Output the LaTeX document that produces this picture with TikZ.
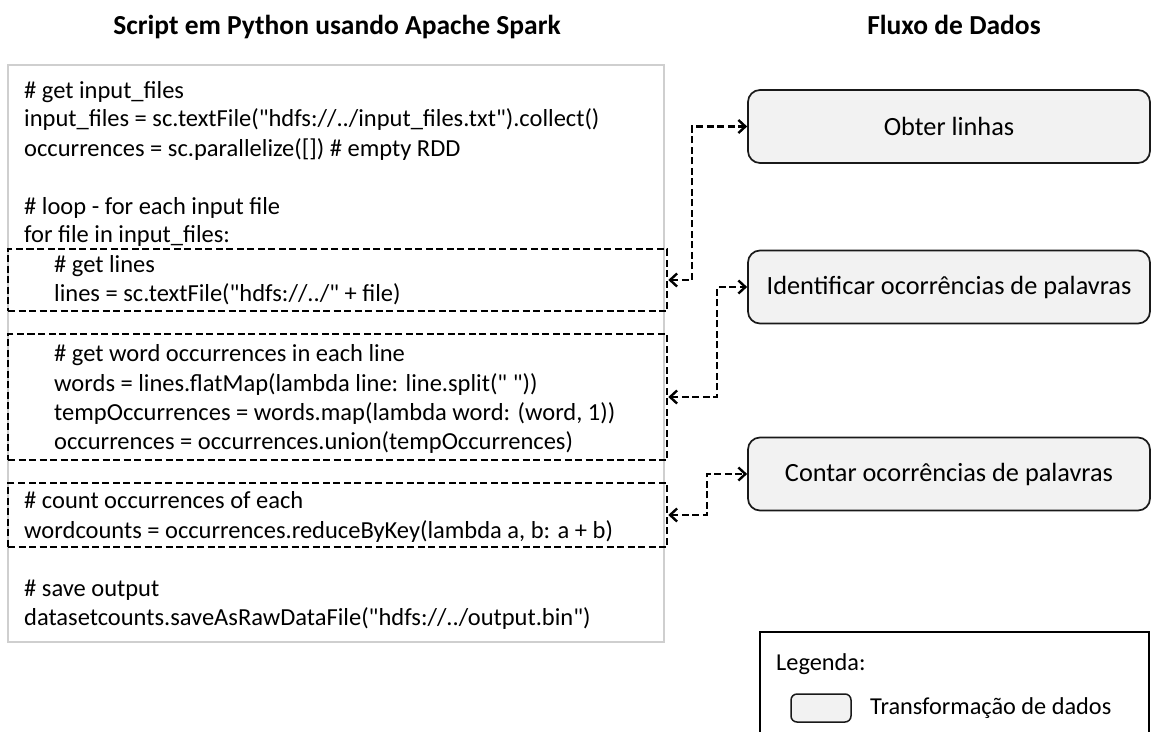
\documentclass[tikz,border=0pt]{standalone}
\usepackage{fontspec}
\setmainfont{Carlito}[Ligatures=TeXOff]
\usetikzlibrary{arrows.meta,calc}
\definecolor{boxfill}{HTML}{F2F2F2}
\definecolor{outergray}{HTML}{CFCFCF}
\tikzset{
  codeline/.style={anchor=base west, inner sep=0pt, font=\fontsize{24.5}{29}\selectfont},
  titletext/.style={anchor=base, inner sep=0pt, font=\fontsize{27.5}{32}\selectfont\bfseries},
  dbox/.style={draw=black, line width=2.6pt, dash pattern=on 7pt off 3.5pt, minimum width=659pt, inner sep=0pt},
  flowbox/.style={draw=black!90, fill=boxfill, line width=1.7pt, rounded corners=12pt, minimum width=402pt, minimum height=73pt, inner sep=0pt, font=\fontsize{26.3}{30}\selectfont},
  conn/.style={line width=2.6pt, dash pattern=on 7pt off 3.5pt, {Straight Barb[length=7pt,width=13pt,line width=2.4pt]}-{Straight Barb[length=7pt,width=13pt,line width=2.4pt]}},
  legtext/.style={anchor=west, inner sep=0pt, font=\fontsize{24.3}{28}\selectfont}
}
\begin{document}
\begin{tikzpicture}[x=1pt,y=-1pt]
\useasboundingbox (0,0) rectangle (1156,731);
% titles
\node[titletext] (t1) at (337,34) {Script em Python usando Apache Spark};
\node[titletext] (t2) at (954,34) {Fluxo de Dados};
% outer code box
\draw[outergray, line width=1.5pt] (8,65) rectangle (664,642);
% dashed boxes
\node[dbox, minimum height=62pt] (db1) at (337.5,280) {};
\node[dbox, minimum height=126pt] (db2) at (337.5,397) {};
\node[dbox, minimum height=64pt] (db3) at (337.5,515) {};
% code lines
\node[codeline] (l1) at (24,98) {\# get input\_files};
\node[codeline] (l2) at (24,126) {input\_files = sc.textFile("hdfs://../input\_files.txt").collect()};
\node[codeline] (l3) at (24,156) {occurrences = sc.parallelize([]) \# empty RDD};
\node[codeline] (l4) at (24,214) {\# loop - for each input file};
\node[codeline] (l5) at (24,242) {for file in input\_files:};
\node[codeline] (l6) at (54,272) {\# get lines};
\node[codeline] (l7) at (54,301) {lines = sc.textFile("hdfs://../" + file)};
\node[codeline] (l8) at (54,361) {\# get word occurrences in each line};
\node[codeline] (l9) at (54,391) {words = lines.flatMap(lambda line: line.split(" "))};
\node[codeline] (l10) at (54,420) {tempOccurrences = words.map(lambda word: (word, 1))};
\node[codeline] (l11) at (54,449) {occurrences = occurrences.union(tempOccurrences)};
\node[codeline] (l12) at (24,508) {\# count occurrences of each};
\node[codeline] (l13) at (24,538) {wordcounts = occurrences.reduceByKey(lambda a, b: a + b)};
\node[codeline] (l14) at (24,596) {\# save output};
\node[codeline] (l15) at (24,625) {datasetcounts.saveAsRawDataFile("hdfs://../output.bin")};
% flow boxes
\node[flowbox] (ob) at (949,126.5) {Obter linhas};
\node[flowbox] (id) at (949,287) {Identificar ocorrências de palavras};
\node[flowbox] (ct) at (949,474) {Contar ocorrências de palavras};
% connectors
\draw[conn] (db1.east) -| ($(ob.west)+(-55,0)$) -- (ob.west);
\draw[conn] (db2.east) -| ($(id.west)+(-30,0)$) -- (id.west);
\draw[conn] (db3.east) -| ($(ct.west)+(-40,0)$) -- (ct.west);
% legend
\draw[black, line width=1.5pt] (760,732) |- (1149,632) -- (1149,732);
\node[legtext] (lg) at (776,664) {Legenda:};
\node[draw=black!90, fill=boxfill, line width=1.5pt, rounded corners=6pt, minimum width=60pt, minimum height=28pt, inner sep=0pt] (lgbox) at (821,708) {};
\node[legtext] (lgt) at (870,708) {Transformação de dados};
\end{tikzpicture}
\end{document}
